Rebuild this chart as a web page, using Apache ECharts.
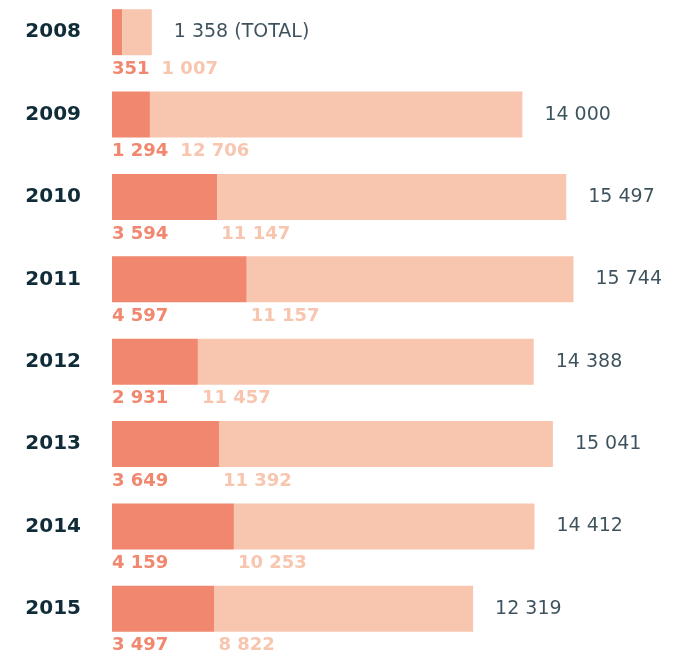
<!DOCTYPE html>
<html>
<head>
<meta charset="utf-8">
<script src="https://cdn.jsdelivr.net/npm/echarts@6/dist/echarts.min.js"></script>
<style>
  html, body { margin: 0; padding: 0; background: #fff; }
  #chart { width: 676px; height: 656px; }
</style>
</head>
<body>
<div id="chart"></div>
<script>
const years = ["2008", "2009", "2010", "2011", "2012", "2013", "2014", "2015"];
const darkVals = [351, 1294, 3594, 4597, 2931, 3649, 4159, 3497];
const lightVals = [1007, 12706, 11147, 11157, 11457, 11392, 10253, 8822];
const totals = [1358, 14000, 15497, 15744, 14388, 15041, 14412, 12319];

const DARK = "#f0876e";
const LIGHT = "#f8c5af";
const NAVY = "#0f2c38";
const FONT = "DejaVu Sans";

// 1 358 style
function fmt(n) {
  return String(n).replace(/\B(?=(\d{3})+(?!\d))/g, " ");
}

const gridLeft = 112, gridRight = 95, xMax = 16000;
const pxPerUnit = (676 - gridLeft - gridRight) / xMax;

// measure text so the light label never runs into the dark one
const ctx = document.createElement("canvas").getContext("2d");
ctx.font = "bold 18px " + FONT;
function labelShift(i) {
  const w = ctx.measureText(fmt(darkVals[i])).width;
  const darkPx = darkVals[i] * pxPerUnit;
  return Math.max(4, w + 12 - darkPx);
}

const segLabel = {
  show: true,
  position: [0, "100%"],
  align: "left",
  verticalAlign: "top",
  offset: [0, 5],
  fontFamily: FONT,
  fontSize: 18,
  fontWeight: "bold"
};

const chart = echarts.init(document.getElementById("chart"));
chart.setOption({
  animation: false,
  grid: {
    left: gridLeft, right: gridRight, top: -9, height: 659,
    outerBoundsMode: "none"
  },
  xAxis: {
    type: "value", min: 0, max: xMax,
    show: false
  },
  yAxis: {
    type: "category",
    inverse: true,
    data: years,
    axisLine: { show: false },
    axisTick: { show: false },
    axisLabel: {
      margin: 31,
      color: NAVY,
      fontFamily: FONT,
      fontSize: 20,
      fontWeight: "bold"
    }
  },
  series: [
    {
      name: "dark",
      type: "bar",
      stack: "s",
      barWidth: 46,
      itemStyle: { color: DARK },
      label: Object.assign({}, segLabel, {
        color: DARK,
        formatter: p => fmt(darkVals[p.dataIndex])
      }),
      data: darkVals
    },
    {
      name: "light",
      type: "bar",
      stack: "s",
      barWidth: 46,
      itemStyle: { color: LIGHT },
      data: totals.map((t, i) => ({
        value: t - darkVals[i],
        label: Object.assign({}, segLabel, {
          color: LIGHT,
          position: [labelShift(i), "100%"],
          formatter: () => fmt(lightVals[i])
        })
      }))
    },
    {
      name: "total",
      type: "scatter",
      symbolSize: 0,
      label: {
        show: true,
        position: "right",
        distance: 22,
        color: "#0d2733",
        fontFamily: FONT,
        fontSize: 19,
        formatter: p => fmt(totals[p.dataIndex]) + (p.dataIndex === 0 ? " (TOTAL)" : "")
      },
      data: totals.map((t, i) => [t, i])
    }
  ]
});
</script>
</body>
</html>
